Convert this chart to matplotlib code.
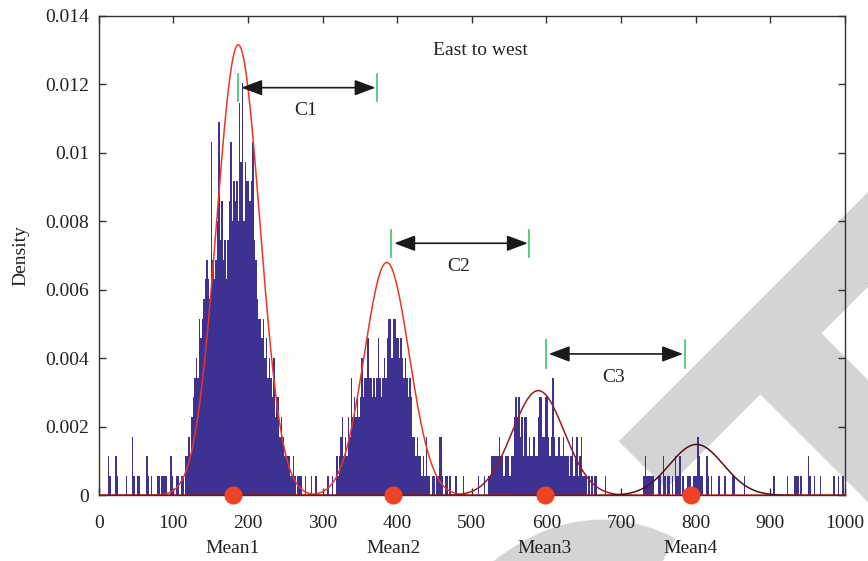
import matplotlib.pyplot as plt
import numpy as np

plt.rcParams['font.family'] = ['Liberation Serif', 'DejaVu Serif']

# histogram: bins of 2 units, heights in counts
bin_width = 2
count_unit = 0.000573  # density of a single count

counts_000 = [0, 0, 0, 0, 0, 0, 2, 1, 0, 0, 0, 2, 1, 0, 0, 0, 0, 0, 1, 0,
              0, 0, 3, 1, 0, 0, 1, 1, 0, 0, 0, 0, 2, 1, 0, 1, 0, 0, 0, 1,
              1, 0, 1, 1, 1, 1, 0, 0, 2, 1]
counts_100 = [0, 0, 1, 1, 0, 1, 1, 0, 2, 2, 3, 2, 4, 5, 6, 7, 6, 9, 8, 9,
              10, 11, 12, 11, 10, 18, 12, 11, 12, 14, 19, 13, 15, 12, 13, 11, 13, 15, 18, 14,
              16, 15, 16, 14, 20, 17, 21, 14, 17, 16]
counts_200 = [16, 15, 16, 18, 13, 12, 10, 9, 9, 8, 9, 7, 8, 6, 7, 6, 5, 7, 4, 5,
              5, 3, 4, 3, 2, 2, 2, 2, 1, 1, 2, 1, 0, 1, 1, 1, 0, 0, 1, 0,
              0, 0, 1, 0, 0, 1, 0, 0, 0, 0]
counts_300 = [0, 0, 0, 1, 0, 0, 1, 0, 0, 2, 1, 2, 3, 4, 2, 3, 2, 4, 3, 6,
              4, 5, 4, 5, 4, 5, 7, 5, 6, 6, 8, 6, 6, 5, 6, 5, 6, 8, 6, 5,
              6, 7, 6, 8, 9, 9, 7, 9, 9, 8]
counts_400 = [8, 7, 8, 7, 6, 7, 6, 5, 6, 5, 3, 3, 2, 3, 2, 2, 1, 2, 1, 3,
              1, 1, 0, 1, 1, 0, 1, 1, 3, 3, 1, 0, 1, 1, 0, 1, 0, 0, 0, 1,
              0, 0, 0, 0, 1, 0, 0, 0, 0, 0]
counts_500 = [0, 0, 0, 0, 1, 0, 0, 0, 1, 0, 0, 1, 1, 2, 2, 2, 2, 2, 3, 2,
              2, 1, 2, 2, 2, 1, 2, 2, 4, 5, 4, 5, 3, 4, 2, 4, 4, 2, 3, 2,
              2, 3, 2, 2, 4, 5, 5, 3, 3, 5]
counts_600 = [5, 3, 2, 3, 6, 3, 2, 2, 3, 2, 2, 3, 2, 2, 2, 1, 2, 3, 1, 2,
              3, 1, 2, 3, 1, 1, 1, 0, 1, 0, 1, 0, 1, 1, 0, 0, 0, 0, 0, 1,
              0, 0, 0, 0, 0, 0, 0, 0, 0, 0]
counts_700 = [0, 0, 0, 0, 0, 0, 0, 0, 0, 0, 0, 0, 0, 0, 0, 1, 2, 1, 1, 1,
              1, 1, 0, 0, 0, 1, 1, 0, 2, 1, 0, 1, 1, 0, 1, 0, 2, 1, 1, 2,
              0, 1, 0, 0, 1, 1, 1, 0, 1, 1]
counts_800 = [1, 3, 2, 1, 1, 0, 0, 2, 1, 0, 1, 0, 0, 0, 0, 1, 0, 0, 0, 1,
              0, 0, 0, 0, 1, 1, 0, 0, 0, 0, 0, 0, 1, 0, 0, 0, 0, 0, 0, 0,
              0, 0, 0, 0, 0, 0, 0, 0, 0, 0]
counts_900 = [0, 0, 1, 0, 0, 0, 0, 0, 0, 0, 0, 1, 0, 0, 0, 0, 1, 1, 1, 0,
              1, 0, 0, 0, 0, 2, 1, 0, 0, 1, 0, 0, 0, 1, 0, 0, 0, 0, 0, 0,
              0, 0, 1, 0, 0, 1, 0, 0, 1, 0]

# fitted normal components
fit_mu = [187, 386, 589, 801]
fit_sd = [29, 30, 35, 36]
fit_peak = [0.01315, 0.0068, 0.00306, 0.00149]
fit_colors = ['#ee3524', '#ee3524', '#9e1a1e', '#5a0c12']

means_x = [180, 395, 598, 793]
mean_labels = ['Mean1', 'Mean2', 'Mean3', 'Mean4']

# spans between components: (left green mark, right green mark), arrow height, label
span_x = [(187, 373), (392, 577), (599, 785)]
span_y = [0.0119, 0.00736, 0.00413]
span_labels = ['C1', 'C2', 'C3']

yticks = [0, 0.002, 0.004, 0.006, 0.008, 0.01, 0.012, 0.014]
ytick_labels = ['0', '0.002', '0.004', '0.006', '0.008', '0.01', '0.012', '0.014']
xticks = list(range(0, 1001, 100))

counts = np.array(counts_000 + counts_100 + counts_200 + counts_300 + counts_400
                  + counts_500 + counts_600 + counts_700 + counts_800 + counts_900)
left_edges = np.arange(len(counts)) * bin_width

fig = plt.figure(figsize=(8.68, 5.61), dpi=100)
ax = fig.add_axes([0.1137, 0.1168, 0.8598, 0.8552])
ax.patch.set_alpha(0)
ax.set_zorder(1)

# grey "RETRACTED" stamp behind the plot (anchor given in pixels)
fig.text(-872 / 868, 1 - 2477 / 561, 'RETRACTED', rotation=45, rotation_mode='anchor',
         ha='left', va='baseline', fontsize=432, fontweight='bold',
         family='Liberation Sans', color='#d4d4d4', zorder=-5)

ax.bar(left_edges, counts * count_unit, width=bin_width, align='edge',
       color='#3d3191', linewidth=0, zorder=2)

x = np.linspace(0, 1000, 2001)
for mu, sd, pk, c in zip(fit_mu, fit_sd, fit_peak, fit_colors):
    ax.plot(x, pk * np.exp(-0.5 * ((x - mu) / sd) ** 2), color=c, lw=1.1, zorder=3)

ax.plot(means_x, [0] * len(means_x), 'o', ms=13, color='#ef4123', mec='none',
        clip_on=False, zorder=5)
for mx, lab in zip(means_x, mean_labels):
    ax.text(mx, -0.1198, lab, transform=ax.get_xaxis_transform(), ha='center',
            va='baseline', fontsize=14, color='#222222')

tick_half = 0.0004
for (x1, x2), y, lab in zip(span_x, span_y, span_labels):
    for xx in (x1, x2):
        ax.plot([xx, xx], [y - tick_half, y + tick_half], color='#3cc864', lw=1.2, zorder=4)
    ax.annotate('', xy=(x2 - 2, y), xytext=(x1 + 4, y),
                arrowprops=dict(arrowstyle='<|-|>,head_length=0.8,head_width=0.3',
                                color='#1a1a1a', lw=1.2, mutation_scale=16,
                                shrinkA=0, shrinkB=0))
    ax.text((x1 + x2) / 2 - 2, y - 0.00068, lab, ha='center', va='center',
            fontsize=14, color='#222222')

ax.text(511, 0.01299, 'East to west', ha='center', va='center', fontsize=14, color='#222222')

ax.set_xlim(0, 1000)
ax.set_ylim(0, 0.014)
ax.set_xticks(xticks)
ax.set_yticks(yticks)
ax.set_yticklabels(ytick_labels)
ax.set_ylabel('Density', fontsize=14, color='#222222', labelpad=11)
ax.tick_params(direction='in', top=True, right=True, length=5, width=1,
               color='#333333', labelsize=14, labelcolor='#222222')
ax.tick_params(axis='x', pad=14)
ax.tick_params(axis='y', pad=7)
for s in ax.spines.values():
    s.set_color('#333333')
    s.set_linewidth(1)

fig.savefig('out.png', dpi=100, facecolor='white')
